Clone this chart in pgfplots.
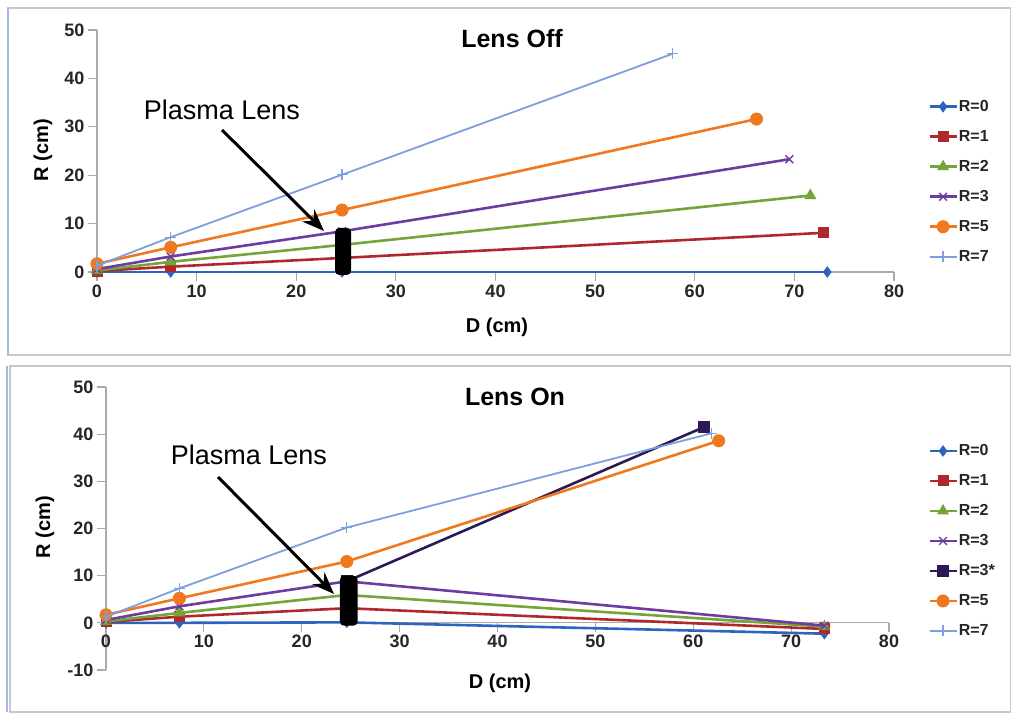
\documentclass[border=0pt]{standalone}
\usepackage{pgfplots}
\pgfplotsset{compat=1.18}
\usepackage{fontspec}
\setmainfont{Liberation Sans}
\usetikzlibrary{arrows.meta}
\definecolor{c0}{RGB}{45,100,190}
\definecolor{c1}{RGB}{175,40,45}
\definecolor{c2}{RGB}{115,165,55}
\definecolor{c3}{RGB}{110,60,160}
\definecolor{c3s}{RGB}{45,25,85}
\definecolor{c5}{RGB}{240,120,30}
\definecolor{c7}{RGB}{125,160,220}
\definecolor{axgray}{RGB}{170,170,170}
\definecolor{framegray}{RGB}{200,200,200}
\definecolor{frameblue}{RGB}{160,185,230}
\pgfplotsset{
  excel/.style={
    scale only axis, clip=false, clip marker paths=true,
    xmin=0, xmax=80, xtick={0,10,...,80},
    /pgf/number format/assume math mode=true,
    tick label style={font=\bfseries\fontsize{18}{18}\selectfont, text=black!85},
    tick align=outside, major tick length=9pt,
    axis line style={draw=axgray, line width=1.2pt},
    tick style={draw=axgray, line width=1.2pt},
    hide obscured x ticks=false, hide obscured y ticks=false,
    legend cell align=left,
    legend style={draw=none, fill=none, font=\bfseries\fontsize{16}{16}\selectfont, text=black!85,
      row sep=14pt, nodes={inner sep=1pt, text height=12pt, text depth=2pt}},
    legend image code/.code={\draw[mark repeat=2,mark phase=2,#1] plot coordinates {(0pt,0pt)(13.5pt,0pt)(27pt,0pt)};},
  },
  s0/.style={c0, line width=2.6pt, mark=diamond*, mark size=5pt, mark options={fill=c0, line width=1pt}},
  s1/.style={c1, line width=2.6pt, mark=square*, mark size=5pt, mark options={fill=c1, line width=1pt}},
  s2/.style={c2, line width=2.6pt, mark=triangle*, mark size=6pt, mark options={fill=c2, line width=1pt}},
  s3/.style={c3, line width=2.6pt, mark=x, mark size=5.5pt, mark options={line width=1.4pt}},
  s3s/.style={c3s, line width=2.6pt, mark=square*, mark size=5.5pt, mark options={fill=c3s, line width=1pt}},
  s5/.style={c5, line width=2.6pt, mark=*, mark size=6pt, mark options={fill=c5, line width=1pt}},
  s7/.style={c7, line width=1.8pt, mark=+, mark size=5.5pt, mark options={line width=1.2pt}},
}
\begin{document}
\begin{tikzpicture}
\useasboundingbox (0pt,0pt) rectangle (1011pt,712pt);
% panel frames
\draw[framegray, line width=1.5pt] (8pt,357pt) rectangle (1011pt,704pt);
\draw[frameblue, line width=1.5pt] (8pt,357pt) -- (8pt,704pt);
\draw[framegray, line width=1.5pt] (10pt,0pt) rectangle (1011pt,346pt);
\draw[frameblue, line width=1.5pt] (7pt,0pt) -- (7pt,346pt);

% ---------------- Lens Off ----------------
\begin{axis}[excel,
  at={(97pt,440pt)}, anchor=south west,
  width=797pt, height=242pt,
  ymin=0, ymax=50, ytick={0,10,...,50},
  axis x line*=bottom, axis y line*=left,
  legend style={at={(1.039,0.725)}, anchor=north west},
]
\addplot[s0] coordinates {(0,0) (7.4,0) (24.6,0) (73.3,0)};
\addlegendentry{R=0}
\addplot[s1] coordinates {(0,0.2) (7.4,1.1) (24.6,2.9) (72.9,8.1)};
\addlegendentry{R=1}
\addplot[s2] coordinates {(0,0.3) (7.4,2.1) (24.6,5.6) (71.6,15.8)};
\addlegendentry{R=2}
\addplot[s3] coordinates {(0,0.6) (7.4,3.2) (24.6,8.4) (69.5,23.3)};
\addlegendentry{R=3}
\addplot[s5] coordinates {(0,1.7) (7.4,5.1) (24.6,12.8) (66.2,31.6)};
\addlegendentry{R=5}
\addplot[s7] coordinates {(0,1.3) (7.4,7.2) (24.6,20.1) (57.8,45.1)};
\addlegendentry{R=7}
\addplot[fill=black, draw=none, rounded corners=4pt, forget plot] coordinates {(23.9,-0.6) (25.5,-0.6) (25.5,9.1) (23.9,9.1)} -- cycle;
\end{axis}
\node[font=\bfseries\fontsize{25}{25}\selectfont] at (512pt,673pt) {Lens Off};
\node[font=\bfseries\fontsize{20}{20}\selectfont] at (497pt,385pt) {D (cm)};
\node[font=\bfseries\fontsize{20}{20}\selectfont, rotate=90] at (43pt,562pt) {R (cm)};
\node[font=\fontsize{27}{27}\selectfont] at (222pt,602pt) {Plasma Lens};
\draw[line width=3pt, -{Stealth[length=22pt,width=17pt]}] (222pt,582pt) -- (324pt,481pt);

% ---------------- Lens On ----------------
\begin{axis}[excel,
  at={(106pt,42pt)}, anchor=south west,
  width=783pt, height=283pt,
  ymin=-10, ymax=50, ytick={-10,0,...,50},
  axis x line*=middle, axis y line*=left,
  legend style={at={(1.046,0.81)}, anchor=north west},
]
\addplot[s0] coordinates {(0,0) (7.5,0) (24.6,0.1) (73.4,-2.3)};
\addlegendentry{R=0}
\addplot[s1] coordinates {(0,0.2) (7.5,1.3) (24.6,3.1) (73.4,-1.3)};
\addlegendentry{R=1}
\addplot[s2] coordinates {(0,0.3) (7.5,2.1) (24.6,5.9) (73.4,-0.8)};
\addlegendentry{R=2}
\addplot[s3] coordinates {(0,0.6) (7.5,3.5) (24.6,8.8) (73.4,-0.6)};
\addlegendentry{R=3}
\addplot[s3s] coordinates {(24.6,8.8) (61.1,41.5)};
\addlegendentry{R=3*}
\addplot[s5] coordinates {(0,1.7) (7.5,5.2) (24.6,13.0) (62.6,38.6)};
\addlegendentry{R=5}
\addplot[s7] coordinates {(0,1.3) (7.5,7.3) (24.6,20.2) (61.9,40.2)};
\addlegendentry{R=7}
\addplot[fill=black, draw=none, rounded corners=4pt, forget plot] coordinates {(23.9,-0.6) (25.7,-0.6) (25.7,10) (23.9,10)} -- cycle;
\end{axis}
\node[font=\bfseries\fontsize{25}{25}\selectfont] at (515pt,315pt) {Lens On};
\node[font=\bfseries\fontsize{20}{20}\selectfont] at (500pt,29pt) {D (cm)};
\node[font=\bfseries\fontsize{20}{20}\selectfont, rotate=90] at (45pt,185pt) {R (cm)};
\node[font=\fontsize{27}{27}\selectfont] at (249pt,257pt) {Plasma Lens};
\draw[line width=3pt, -{Stealth[length=22pt,width=17pt]}] (218pt,235pt) -- (334pt,118pt);
\end{tikzpicture}
\end{document}
